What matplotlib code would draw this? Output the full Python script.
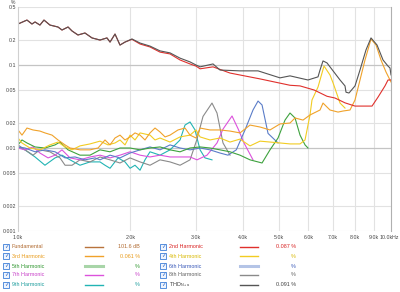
import matplotlib
matplotlib.use("Agg")
import matplotlib.pyplot as plt
from matplotlib.lines import Line2D
from matplotlib.patches import Rectangle
from matplotlib.ticker import FixedLocator, NullLocator
from matplotlib.transforms import ScaledTranslation

plt.rcParams["font.family"] = ["Liberation Sans", "DejaVu Sans"]

# ---- data (frequency in Hz, distortion in %) ----
thd_f = [1000, 1057, 1090, 1111, 1145, 1174, 1218, 1280, 1312, 1362, 1396, 1448, 1512,
         1579, 1659, 1732, 1765, 1820, 1877, 1936, 2021, 2124, 2259, 2403, 2556, 2719,
         2892, 3001, 3077, 3333, 3480, 3937, 4401, 5040, 5361, 5990, 6373, 6452, 6572,
         6736, 7036, 7301, 7528, 7575, 7716, 8008, 8258, 8570, 8839, 9175, 9519, 9817,
         9938, 10000]
thd_v = [0.312, 0.348, 0.312, 0.330, 0.303, 0.348, 0.303, 0.287, 0.264, 0.287, 0.257,
         0.230, 0.243, 0.212, 0.200, 0.212, 0.189, 0.236, 0.174, 0.189, 0.206, 0.184,
         0.169, 0.148, 0.140, 0.121, 0.109, 0.100, 0.095, 0.103, 0.087, 0.085, 0.085,
         0.070, 0.074, 0.066, 0.072, 0.087, 0.112, 0.106, 0.082, 0.066, 0.056, 0.047,
         0.046, 0.056, 0.087, 0.152, 0.212, 0.174, 0.115, 0.097, 0.092, 0.076]

h2_f = [1000, 1057, 1090, 1111, 1145, 1174, 1218, 1280, 1312, 1362, 1396, 1448, 1512,
        1579, 1659, 1732, 1765, 1820, 1877, 1936, 2021, 2124, 2259, 2403, 2556, 2719,
        2892, 3001, 3077, 3333, 3702, 4456, 5361, 5703, 6220, 6736, 7079, 7528, 8008,
        8517, 8894, 9229, 9636, 9817, 10000]
h2_v = [0.312, 0.348, 0.312, 0.330, 0.303, 0.348, 0.303, 0.287, 0.264, 0.287, 0.257,
        0.230, 0.243, 0.212, 0.200, 0.212, 0.189, 0.236, 0.174, 0.189, 0.204, 0.179,
        0.165, 0.143, 0.136, 0.115, 0.103, 0.097, 0.090, 0.095, 0.080, 0.068, 0.057,
        0.056, 0.050, 0.042, 0.040, 0.035, 0.032, 0.032, 0.032, 0.041, 0.056, 0.066,
        0.066]

h3_f = [1000, 1025, 1057, 1097, 1145, 1181, 1234, 1280, 1337, 1379, 1466, 1560, 1639,
        1711, 1765, 1820, 1877, 1936, 1997, 2059, 2124, 2190, 2259, 2330, 2403, 2479,
        2556, 2685, 2804, 2892, 3001, 3077, 3271, 3480, 3702, 3937, 4188, 4456, 4738,
        5040, 5361, 5530, 5810, 6065, 6452, 6572, 6862, 7211, 7436, 7764, 8008, 8258,
        8517, 8839, 9118, 9402, 9696, 10000]
h3_v = [0.0165, 0.0143, 0.0174, 0.0165, 0.0160, 0.0152, 0.0143, 0.0125, 0.0109, 0.0100,
        0.0095, 0.0095, 0.0100, 0.0125, 0.0109, 0.0132, 0.0143, 0.0125, 0.0136, 0.0152,
        0.0143, 0.0125, 0.0152, 0.0174, 0.0156, 0.0136, 0.0143, 0.0165, 0.0174, 0.0143,
        0.0132, 0.0174, 0.0165, 0.0165, 0.0160, 0.0152, 0.0189, 0.0179, 0.0165, 0.0195,
        0.0200, 0.0230, 0.0217, 0.0250, 0.0287, 0.0348, 0.0287, 0.0271, 0.0279, 0.0287,
        0.0379, 0.0660, 0.1149, 0.2057, 0.1742, 0.1149, 0.0824, 0.0624]

h4_f = [1000, 1025, 1077, 1145, 1218, 1280, 1337, 1396, 1466, 1560, 1659, 1743, 1820,
        1877, 1936, 1997, 2059, 2124, 2259, 2330, 2403, 2556, 2719, 2892, 3001, 3077,
        3271, 3480, 3702, 3937, 4188, 4456, 4738, 5040, 5361, 5703, 5882, 6065, 6140,
        6373, 6613, 6862, 6995, 7301, 7528]
h4_v = [0.0132, 0.0115, 0.0100, 0.0095, 0.0109, 0.0118, 0.0103, 0.0095, 0.0106, 0.0112,
        0.0121, 0.0109, 0.0115, 0.0125, 0.0109, 0.0143, 0.0125, 0.0152, 0.0143, 0.0125,
        0.0132, 0.0118, 0.0136, 0.0143, 0.0165, 0.0136, 0.0125, 0.0132, 0.0118, 0.0128,
        0.0106, 0.0121, 0.0118, 0.0115, 0.0112, 0.0112, 0.0125, 0.0250, 0.0379, 0.0543,
        0.0973, 0.0758, 0.0607, 0.0348, 0.0303]

h5_f = [1000, 1025, 1057, 1111, 1181, 1257, 1296, 1362, 1466, 1560, 1659, 1765, 1877,
        1997, 2124, 2259, 2403, 2556, 2719, 2892, 3077, 3271, 3480, 3702, 3937, 4188,
        4511, 4738, 4979, 5198, 5361, 5530, 5703, 5882, 5990]
h5_v = [0.0109, 0.0125, 0.0115, 0.0103, 0.0100, 0.0109, 0.0118, 0.0095, 0.0082, 0.0082,
        0.0095, 0.0090, 0.0100, 0.0100, 0.0095, 0.0100, 0.0103, 0.0095, 0.0090, 0.0100,
        0.0103, 0.0100, 0.0095, 0.0090, 0.0082, 0.0072, 0.0066, 0.0095, 0.0132, 0.0217,
        0.0264, 0.0230, 0.0143, 0.0109, 0.0100]

h6_f = [1000, 1044, 1111, 1181, 1257, 1337, 1422, 1512, 1609, 1659, 1765, 1877, 1997,
        2124, 2259, 2403, 2556, 2719, 2892, 3077, 3271, 3480, 3656, 3848, 4061, 4266,
        4401, 4511, 4681, 4979]
h6_v = [0.0103, 0.0100, 0.0090, 0.0095, 0.0090, 0.0076, 0.0078, 0.0072, 0.0076, 0.0072,
        0.0082, 0.0076, 0.0087, 0.0095, 0.0103, 0.0095, 0.0109, 0.0100, 0.0095, 0.0100,
        0.0095, 0.0087, 0.0082, 0.0095, 0.0165, 0.0287, 0.0368, 0.0330, 0.0150, 0.0115]

h7_f = [1000, 1044, 1097, 1145, 1204, 1257, 1312, 1379, 1466, 1560, 1659, 1765, 1877,
        1997, 2124, 2259, 2403, 2556, 2719, 2892, 3020, 3212, 3416, 3545, 3748, 3894,
        4036, 4266]
h7_v = [0.0100, 0.0095, 0.0103, 0.0087, 0.0076, 0.0082, 0.0095, 0.0076, 0.0072, 0.0078,
        0.0082, 0.0076, 0.0082, 0.0090, 0.0082, 0.0078, 0.0082, 0.0078, 0.0078, 0.0078,
        0.0072, 0.0082, 0.0115, 0.0169, 0.0243, 0.0169, 0.0115, 0.0072]

h8_f = [1000, 1044, 1097, 1145, 1218, 1296, 1337, 1396, 1466, 1560, 1659, 1765, 1877,
        1997, 2124, 2259, 2403, 2556, 2719, 2892, 3020, 3133, 3312, 3416, 3545, 3702]
h8_v = [0.0109, 0.0095, 0.0082, 0.0095, 0.0090, 0.0076, 0.0062, 0.0062, 0.0072, 0.0068,
        0.0078, 0.0072, 0.0066, 0.0076, 0.0068, 0.0062, 0.0072, 0.0068, 0.0062, 0.0072,
        0.0128, 0.0240, 0.0348, 0.0264, 0.0115, 0.0082]

h9_f = [1000, 1044, 1111, 1181, 1257, 1312, 1379, 1466, 1560, 1659, 1711, 1765, 1854,
        1936, 1997, 2059, 2124, 2190, 2259, 2403, 2556, 2719, 2804, 2892, 2983, 3039,
        3077, 3172, 3312]
h9_v = [0.0103, 0.0095, 0.0078, 0.0062, 0.0076, 0.0082, 0.0072, 0.0062, 0.0068, 0.0068,
        0.0062, 0.0057, 0.0076, 0.0068, 0.0057, 0.0062, 0.0054, 0.0072, 0.0090, 0.0082,
        0.0095, 0.0125, 0.0189, 0.0206, 0.0165, 0.0118, 0.0095, 0.0076, 0.0072]

y_ticks = [0.5, 0.2, 0.1, 0.05, 0.02, 0.01, 0.005, 0.002, 0.001]
y_tick_labels = ["0.5", "0.2", "0.1", "0.05", "0.02", "0.01", "0.005", "0.002", "0.001"]
x_ticks = [1000, 2000, 3000, 4000, 5000, 6000, 7000, 8000, 9000, 10000]
x_tick_labels = ["1.0k", "2.0k", "3.0k", "4.0k", "5.0k", "6.0k", "7.0k", "8.0k", "9.0k",
                 "10.0kHz"]

legend_names = ["Fundamental", "2nd Harmonic", "3rd Harmonic", "4th Harmonic",
                "5th Harmonic", "6th Harmonic", "7th Harmonic", "8th Harmonic",
                "9th Harmonic", r"THD$_{\mathregular{N+a}}$"]
legend_values = ["101.6 dB", "0.087 %", "0.061 %", "%", "%", "%", "%", "%", "%",
                 "0.091 %"]

# colours
c_fund = "#b8733c"
c_h2 = "#e0302c"
c_h3 = "#f0a22a"
c_h4 = "#f2cc22"
c_h5 = "#3ea23e"
c_h6 = "#5a7cc8"
c_h7 = "#dc52dc"
c_h8 = "#8a8a8a"
c_h9 = "#22b4b4"
c_thd = "#555555"

legend_colors = [c_fund, c_h2, c_h3, c_h4, c_h5, c_h6, c_h7, c_h8, c_h9, c_thd]
legend_text_colors = ["#b06a30", "#d82020", "#e89a18", "#d8b800", "#2e962e", "#3858b8",
                      "#c840c8", "#606060", "#1a9c9c", "#404040"]

W, H = 400, 292
fig = plt.figure(figsize=(W / 100, H / 100), dpi=100)
ax = fig.add_axes([18 / W, 1 - 231 / H, 373 / W, 224 / H])

ax.set_xscale("log")
ax.set_yscale("log")
ax.set_xlim(1000, 10000)
ax.set_ylim(0.001, 0.5)

# grid
for f in x_ticks[1:-1]:
    ax.axvline(f, color="#e2e2e2", lw=0.8, zorder=0)
for v in y_ticks:
    if v in (0.1, 0.01):
        ax.axhline(v, color="#c4c4c4", lw=0.9, zorder=0)
    else:
        ax.axhline(v, color="#e2e2e2", lw=0.8, zorder=0)

lw = 0.8
ax.plot(h9_f, h9_v, color=c_h9, lw=lw)
ax.plot(h8_f, h8_v, color=c_h8, lw=lw)
ax.plot(h7_f, h7_v, color=c_h7, lw=lw)
ax.plot(h6_f, h6_v, color=c_h6, lw=lw)
ax.plot(h5_f, h5_v, color=c_h5, lw=lw)
ax.plot(h4_f, h4_v, color=c_h4, lw=lw)
ax.plot(h3_f, h3_v, color=c_h3, lw=lw)
ax.plot(h2_f, h2_v, color=c_h2, lw=lw)
ax.plot(thd_f, thd_v, color=c_thd, lw=lw)

ax.xaxis.set_major_locator(FixedLocator(x_ticks))
ax.xaxis.set_minor_locator(NullLocator())
ax.set_xticklabels(x_tick_labels)
ax.yaxis.set_major_locator(FixedLocator(y_ticks))
ax.yaxis.set_minor_locator(NullLocator())
ax.set_yticklabels(y_tick_labels)
ax.tick_params(axis="both", length=0, labelsize=3.8, colors="#444444")
ax.tick_params(axis="y", pad=1.5)
ax.tick_params(axis="x", pad=3)

# nudge the last x label so "10.0kHz" stays inside the picture
last = ax.get_xticklabels()[-1]
last.set_transform(last.get_transform() + ScaledTranslation(-0.02, 0, fig.dpi_scale_trans))

for side in ("top", "bottom"):
    ax.spines[side].set_visible(False)
ax.spines["left"].set_color("#d0d0d0")
ax.spines["left"].set_linewidth(0.8)
ax.spines["right"].set_color("#b0b0b0")
ax.spines["right"].set_linewidth(0.8)

fig.text(13 / W, 1 - 3 / H, "%", fontsize=3.6, color="#444444", ha="center", va="center")

# legend block
rows_y = [247, 256, 266, 275, 285]
col_x = [(6, 12, 85, 103, 140), (163, 169, 240, 258, 296)]
for i, name in enumerate(legend_names):
    row = i // 2
    col = i % 2
    cb_x, name_x, l0, l1, val_x = col_x[col]
    ypx = rows_y[row]
    fy = 1 - ypx / H
    fig.add_artist(Rectangle(((cb_x - 3) / W, 1 - (ypx + 3) / H), 6 / W, 6 / H,
                             transform=fig.transFigure, facecolor="#eef4fd",
                             edgecolor="#3d7fd8", lw=0.6))
    fig.text(cb_x / W, fy, "\u2713", fontsize=4, color="#1f5fc4",
             ha="center", va="center", family="DejaVu Sans")
    fig.text(name_x / W, fy, name, fontsize=3.9, color=legend_text_colors[i],
             ha="left", va="center")
    if i in (4, 5):
        fig.add_artist(Line2D([l0 / W, l1 / W], [fy, fy], transform=fig.transFigure,
                              color=legend_colors[i], lw=2.2, alpha=0.45))
    else:
        fig.add_artist(Line2D([l0 / W, l1 / W], [fy, fy], transform=fig.transFigure,
                              color=legend_colors[i], lw=1.0))
    fig.text(val_x / W, fy, legend_values[i], fontsize=3.9, color=legend_text_colors[i],
             ha="right", va="center")

fig.savefig("out.png", dpi=100)
plt.close(fig)
